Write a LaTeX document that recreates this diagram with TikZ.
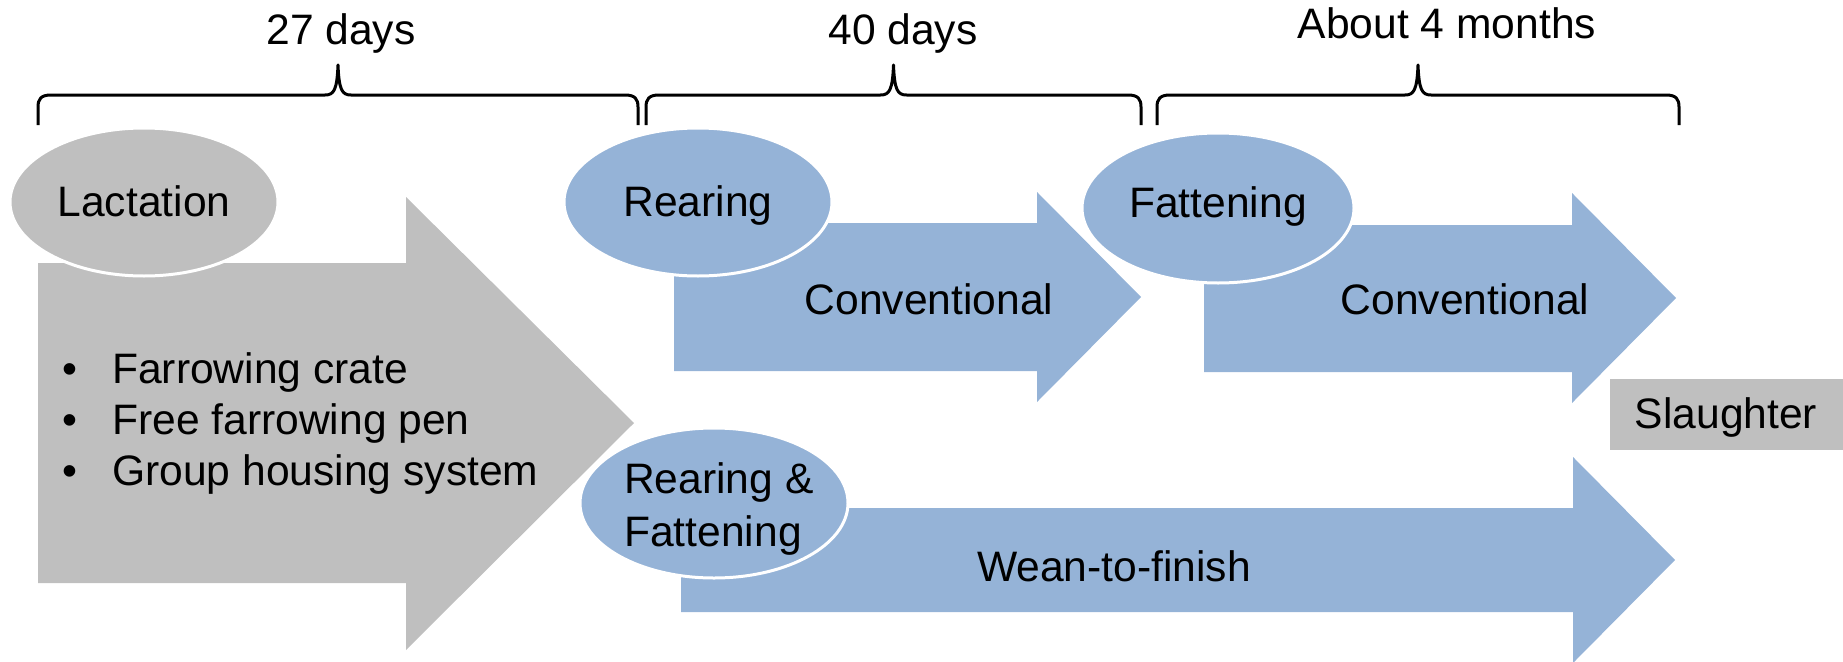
\documentclass[tikz,border=0pt]{standalone}
\usepackage{fontspec}
\setmainfont{Liberation Sans}
\usetikzlibrary{shapes.geometric}

\definecolor{pigblue}{HTML}{95B3D7}
\definecolor{piggray}{HTML}{BFBFBF}

\begin{document}
\begin{tikzpicture}[x=1pt, y=-1pt]
\tikzset{ txt/.style={font=\fontsize{42.6}{50}\selectfont, inner sep=0pt, text height=38pt, text depth=9pt},
          phase/.style={ellipse, draw=white, line width=3pt, minimum width=268pt, minimum height=148pt, txt},
          timebrace/.style={black, line width=3pt, line join=round},  }

\useasboundingbox (0,0) rectangle (1843,661);

% block arrows
\fill [piggray] (38,263) -- (406,263) -- (406,197) -- (634,423) -- (406,650) -- (406,583) -- (38,583) -- cycle;
\fill [pigblue] (674,223) -- (1037,223) -- (1037,192) -- (1141,297) -- (1037,402) -- (1037,371) -- (674,371) -- cycle;
\fill [pigblue] (1204,225) -- (1572,225) -- (1572,193) -- (1676,298) -- (1572,403) -- (1572,372) -- (1204,372) -- cycle;
\fill [pigblue] (681,508) -- (1573,508) -- (1573,457) -- (1675,560) -- (1573,663) -- (1573,612) -- (681,612) -- cycle;

% phases
\node [phase, fill=piggray] (lac)  at (144,202)  {Lactation};
\node [phase, fill=pigblue] (rear) at (698,202)  {Rearing};
\node [phase, fill=pigblue, minimum width=272pt, minimum height=150pt] (fat) at (1218,208) {\raisebox{5pt}{Fattening}};
\node [phase, fill=pigblue, minimum height=150pt] (rf) at (714,503) {};
\node [font=\fontsize{42.6}{53}\selectfont, inner sep=0pt, align=left, anchor=north west] (rftext) at (624,462) {Rearing \&\\Fattening};

% systems
\node [txt] (conv1) at (929,300)  {Conventional};
\node [txt] (conv2) at (1465,300) {Conventional};
\node [txt] (wtf)   at (1114,567) {Wean-to-finish};

\node [txt, anchor=base west] (b1) at (62,383) {\makebox[50pt][l]{\textbullet}Farrowing crate};
\node [txt, anchor=base west] (b2) at (62,434) {\makebox[50pt][l]{\textbullet}Free farrowing pen};
\node [txt, anchor=base west] (b3) at (62,485) {\makebox[50pt][l]{\textbullet}Group housing system};

\node [txt, fill=piggray, minimum width=233pt, minimum height=71pt] (slaughter) at (1726,414) {Slaughter\hspace{10pt}};

% durations
\foreach \xa/\xb in {38/638, 646/1141, 1157/1679} {
  \pgfmathsetmacro\xm{(\xa+\xb)/2}
  \draw [timebrace] (\xa,125) -- (\xa,107) .. controls (\xa,99) and (\xa+3,95) .. (\xa+13,95)
        -- (\xm-13,95) .. controls (\xm-4,95) and (\xm-1,90) .. (\xm,65)
        .. controls (\xm+1,90) and (\xm+4,95) .. (\xm+13,95)
        -- (\xb-13,95) .. controls (\xb-3,95) and (\xb,99) .. (\xb,107) -- (\xb,125);
}

\node [txt, anchor=base] (d27) at (341,45)  {27 days};
\node [txt, anchor=base] (d40) at (903,45)  {40 days};
\node [txt, anchor=base] (m4)  at (1447,39) {About 4 months};

\end{tikzpicture}
\end{document}
